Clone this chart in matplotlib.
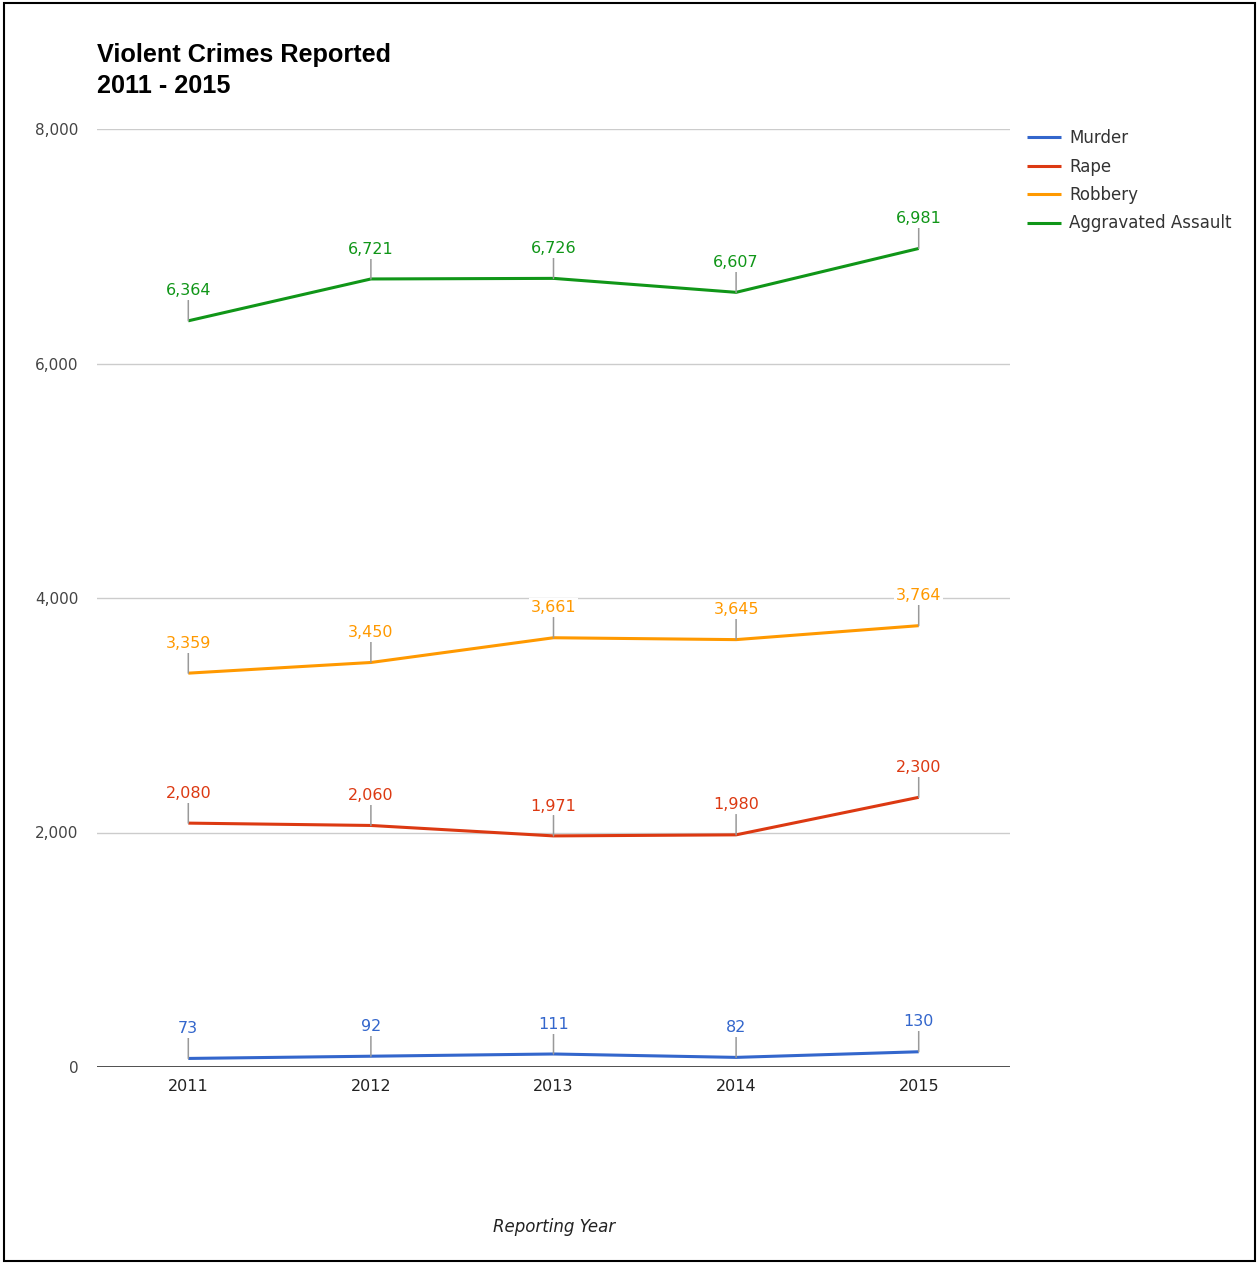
import matplotlib.pyplot as plt
from matplotlib.patches import Rectangle

plt.rcParams['font.family'] = ['DejaVu Sans']

years = ['2011', '2012', '2013', '2014', '2015']
murder = [73, 92, 111, 82, 130]
rape = [2080, 2060, 1971, 1980, 2300]
robbery = [3359, 3450, 3661, 3645, 3764]
assault = [6364, 6721, 6726, 6607, 6981]

series = [
    ('Murder', murder, '#3366cc'),
    ('Rape', rape, '#dc3912'),
    ('Robbery', robbery, '#ff9900'),
    ('Aggravated Assault', assault, '#109618'),
]

fig = plt.figure(figsize=(12.59, 12.63), dpi=100)
ax = fig.add_axes([97/1259, 1-1067/1263, 913/1259, 938/1263])

x = list(range(len(years)))
for name, vals, col in series:
    ax.plot(x, vals, color=col, lw=2.2, label=name, zorder=4, solid_capstyle='butt')
    for i, v in enumerate(vals):
        ax.annotate(f'{v:,}', xy=(i, v), xytext=(0, 21.5), textcoords='offset points',
                    ha='center', va='center', fontsize=11.5, color=col, zorder=5,
                    bbox=dict(boxstyle='square,pad=0.12', fc='white', ec='none'),
                    arrowprops=dict(arrowstyle='-', color='#999999', lw=1.1,
                                    shrinkA=0, shrinkB=0))

ax.set_xlim(-0.5, 4.5)
ax.set_ylim(0, 8000)
ax.set_yticks([0, 2000, 4000, 6000, 8000])
ax.set_yticklabels(['0', '2,000', '4,000', '6,000', '8,000'])
ax.set_xticks(x)
ax.set_xticklabels(years)
ax.tick_params(axis='y', length=0, pad=13.5, labelsize=11, labelcolor='#444444')
ax.tick_params(axis='x', length=0, pad=8.5, labelsize=11.5, labelcolor='#222222')
for s in ax.spines.values():
    s.set_visible(False)
ax.grid(axis='y', color='#cccccc', lw=1)
ax.set_axisbelow(True)
ax.axhline(0, color='#333333', lw=1.2, zorder=3)

fig.text(97/1259, 1-62/1263, 'Violent Crimes Reported', fontsize=18.2, family='Liberation Sans',
         fontweight='bold', color='#000000', va='baseline', ha='left')
fig.text(97/1259, 1-93/1263, '2011 - 2015', fontsize=18.2, family='Liberation Sans',
         fontweight='bold', color='#000000', va='baseline', ha='left')
fig.text(554/1259, 1-1227/1263, 'Reporting Year', fontsize=12, style='italic',
         color='#222222', ha='center', va='center')

fig.legend(loc='upper left', bbox_to_anchor=(1027/1259, 1-129/1263), frameon=False,
           fontsize=12, handlelength=2.04, handletextpad=0.48, labelspacing=0.63,
           labelcolor='#333333', borderaxespad=0, borderpad=0)

fig.add_artist(Rectangle((4/1259, 2/1263), 1251/1259, 1258/1263, transform=fig.transFigure,
                         fill=False, ec='black', lw=1.5))

fig.savefig('out.png', dpi=100)
